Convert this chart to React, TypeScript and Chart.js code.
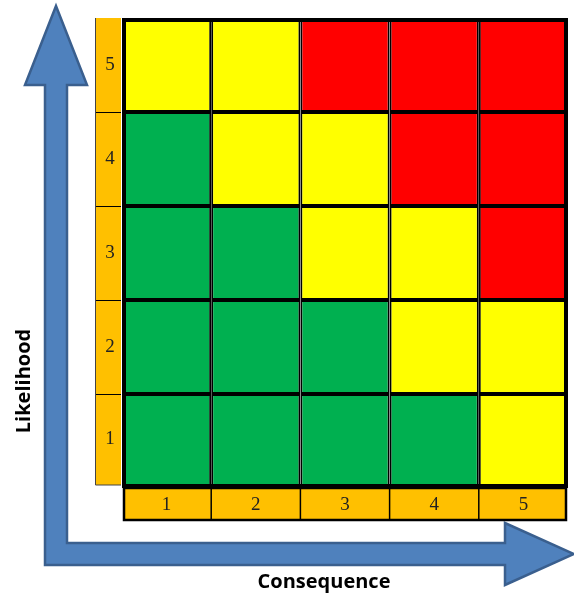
import React, { useEffect, useRef } from "react";
import { Chart, registerables } from "chart.js";

Chart.register(...registerables);

// Consequence categories (x axis) and likelihood levels (y axis)
const consequenceLabels = ["1", "2", "3", "4", "5"];
const likelihoodLabels = ["1", "2", "3", "4", "5"];

// Risk rating per likelihood row, one entry per consequence column
const ratingLikelihood1 = ["G", "G", "G", "G", "Y"];
const ratingLikelihood2 = ["G", "G", "G", "Y", "Y"];
const ratingLikelihood3 = ["G", "G", "Y", "Y", "R"];
const ratingLikelihood4 = ["G", "Y", "Y", "R", "R"];
const ratingLikelihood5 = ["Y", "Y", "R", "R", "R"];
const ratingRows = [
  ratingLikelihood1,
  ratingLikelihood2,
  ratingLikelihood3,
  ratingLikelihood4,
  ratingLikelihood5,
];

const ratingColors: Record<string, string> = {
  G: "#00B050",
  Y: "#FFFF00",
  R: "#FF0000",
};

const xTitle = "Consequence";
const yTitle = "Likelihood";

const ORANGE = "#FFC000";
const ARROW_FILL = "#4F81BD";
const ARROW_STROKE = "#3A5F8E";

const decorPlugin = {
  id: "riskDecor",
  beforeDraw(chart: any) {
    const ctx = chart.ctx;
    const ca = chart.chartArea;
    // L-shaped double arrow, positioned relative to the chart area
    const sx0 = ca.left - 77; // shaft outer left
    const sx1 = ca.left - 55; // shaft inner right
    const hy0 = ca.bottom + 55; // horizontal shaft top
    const hy1 = ca.bottom + 77; // horizontal shaft bottom
    const headHalf = 31;
    const vTipY = ca.top - 12;
    const vBaseY = ca.top + 67;
    const hTipX = ca.right + 6;
    const hBaseX = ca.right - 63;
    const vcx = (sx0 + sx1) / 2;
    const hcy = (hy0 + hy1) / 2;
    ctx.save();
    ctx.beginPath();
    ctx.moveTo(vcx, vTipY);
    ctx.lineTo(vcx + headHalf, vBaseY);
    ctx.lineTo(sx1, vBaseY);
    ctx.lineTo(sx1, hy0);
    ctx.lineTo(hBaseX, hy0);
    ctx.lineTo(hBaseX, hcy - headHalf);
    ctx.lineTo(hTipX, hcy);
    ctx.lineTo(hBaseX, hcy + headHalf);
    ctx.lineTo(hBaseX, hy1);
    ctx.lineTo(sx0, hy1);
    ctx.lineTo(sx0, vBaseY);
    ctx.lineTo(vcx - headHalf, vBaseY);
    ctx.closePath();
    ctx.fillStyle = ARROW_FILL;
    ctx.fill();
    ctx.lineWidth = 2.5;
    ctx.strokeStyle = ARROW_STROKE;
    ctx.lineJoin = "miter";
    ctx.stroke();
    ctx.restore();
  },
  afterDraw(chart: any) {
    const ctx = chart.ctx;
    const ca = chart.chartArea;
    const yScale = chart.scales.y;
    const n = consequenceLabels.length;
    const colW = ca.width / n;
    ctx.save();

    // outer grid border
    ctx.strokeStyle = "#000";
    ctx.lineWidth = 4;
    ctx.strokeRect(ca.left + 2, ca.top + 2, ca.width - 4, ca.height - 4);

    // left orange likelihood strip
    const lx0 = ca.left - 27;
    const lx1 = ca.left - 1;
    ctx.font = '19px "Liberation Serif"';
    ctx.textAlign = "center";
    ctx.textBaseline = "middle";
    likelihoodLabels.forEach((lab, i) => {
      const yTop = yScale.getPixelForValue(i + 1);
      const yBot = i === 0 ? ca.bottom - 3 : yScale.getPixelForValue(i);
      ctx.fillStyle = ORANGE;
      ctx.fillRect(lx0, yTop, lx1 - lx0, yBot - yTop);
      ctx.fillStyle = "#222";
      ctx.fillText(lab, (lx0 + lx1) / 2 + 2, (yTop + yBot) / 2);
    });
    ctx.strokeStyle = "#000";
    ctx.lineWidth = 1;
    for (let i = 1; i < likelihoodLabels.length; i++) {
      const y = Math.round(yScale.getPixelForValue(i)) + 0.5;
      ctx.beginPath();
      ctx.moveTo(lx0, y);
      ctx.lineTo(lx1, y);
      ctx.stroke();
    }
    ctx.strokeStyle = "#444";
    ctx.beginPath();
    ctx.moveTo(lx0 + 0.5, ca.top);
    ctx.lineTo(lx0 + 0.5, ca.bottom - 3);
    ctx.lineTo(lx1, ca.bottom - 3);
    ctx.stroke();

    // bottom orange consequence strip
    const by0 = ca.bottom;
    const by1 = ca.bottom + 32;
    const bx0 = ca.left + 2;
    const bx1 = ca.right - 2;
    ctx.fillStyle = ORANGE;
    ctx.fillRect(bx0, by0, bx1 - bx0, by1 - by0);
    ctx.strokeStyle = "#000";
    ctx.lineWidth = 1.5;
    for (let i = 1; i < n; i++) {
      const x = ca.left + colW * i;
      ctx.beginPath();
      ctx.moveTo(x, by0);
      ctx.lineTo(x, by1);
      ctx.stroke();
    }
    ctx.lineWidth = 2.5;
    ctx.strokeRect(bx0, by0, bx1 - bx0, by1 - by0);
    ctx.fillStyle = "#222";
    ctx.font = '19px "Liberation Serif"';
    consequenceLabels.forEach((lab, i) => {
      const cx = ca.left + colW * (i + 0.5);
      ctx.fillText(lab, cx, (by0 + by1) / 2 + 1);
    });

    // axis titles
    ctx.fillStyle = "#000";
    ctx.font = 'bold 20px "Open Sans"';
    ctx.textAlign = "center";
    ctx.textBaseline = "middle";
    ctx.fillText(xTitle, 324, 582);
    ctx.save();
    ctx.translate(24, 381);
    ctx.rotate(-Math.PI / 2);
    ctx.fillText(yTitle, 0, 0);
    ctx.restore();

    ctx.restore();
  },
};

export default function App() {
  const canvasRef = useRef<HTMLCanvasElement | null>(null);

  useEffect(() => {
    if (!canvasRef.current) return;
    const datasets = ratingRows.map((row, i) => ({
      label: "Likelihood " + likelihoodLabels[i],
      data: consequenceLabels.map(() => [i, i + 1]),
      backgroundColor: row.map((r) => ratingColors[r]),
      borderColor: "#000",
      borderWidth: 2,
      borderSkipped: false,
      inflateAmount: 0,
      barPercentage: 1,
      categoryPercentage: 1,
      grouped: false,
    }));
    const chart = new Chart(canvasRef.current, {
      type: "bar",
      data: { labels: consequenceLabels, datasets: datasets as any },
      options: {
        responsive: false,
        animation: false,
        layout: { padding: { left: 122, top: 18, right: 6, bottom: 108 } },
        plugins: {
          legend: { display: false },
          tooltip: { enabled: false },
          title: { display: false },
        },
        scales: {
          x: { display: false },
          y: { display: false, min: 0, max: likelihoodLabels.length },
        },
      },
      plugins: [decorPlugin],
    });
    return () => chart.destroy();
  }, []);

  return (
    <div style={{ position: "fixed", left: 0, top: 0, width: 574, height: 596, background: "#fff" }}>
      <canvas ref={canvasRef} width={574} height={596} />
    </div>
  );
}
